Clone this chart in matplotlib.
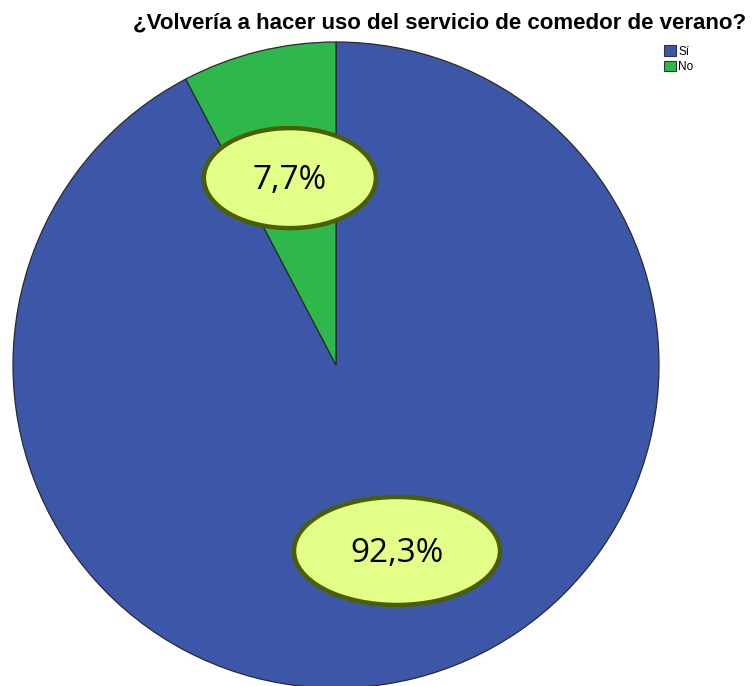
import numpy as np
import matplotlib
matplotlib.use("Agg")
import matplotlib.pyplot as plt
from matplotlib.patches import Ellipse, Patch

categories = ["Sí", "No"]
values = [92.3, 7.7]
labels = ["92,3%", "7,7%"]
colors = ["#3D57A8", "#2EB84C"]
title = "¿Volvería a hacer uso del servicio de comedor de verano?"

W, H = 755, 686
fig = plt.figure(figsize=(W / 100, H / 100), dpi=100)
cx, cy, R = 336, 365, 323
ax = fig.add_axes([(cx - R) / W, (H - cy - R) / H, 2 * R / W, 2 * R / H])
wedges, _ = ax.pie(values, colors=colors, startangle=90, counterclock=False,
                   radius=1.0, wedgeprops=dict(edgecolor="#2a2a2a", linewidth=0.9))
ax.set_xlim(-1, 1)
ax.set_ylim(-1, 1)
ax.set_aspect("equal")
ax.axis("off")

# label placement: (angle offset from wedge mid-angle in degrees, radius fraction, ellipse w, h)
placement = {"92,3%": (4.3, 0.606, 206 / R, 108 / R),
             "7,7%": (0.0, 0.596, 172 / R, 100 / R)}
for w, lab in zip(wedges, labels):
    off, r, ew, eh = placement[lab]
    mid = np.deg2rad((w.theta1 + w.theta2) / 2 + off)
    x, y = r * np.cos(mid), r * np.sin(mid)
    e = Ellipse((x, y), ew, eh, facecolor="#E3FF87", edgecolor="#4B5E00",
                linewidth=3.2, zorder=5, clip_on=False)
    ax.add_patch(e)
    ax.text(x, y - 0.008, lab, ha="center", va="center", fontsize=24,
            family="Open Sans", color="black", zorder=6)

fig.text(440 / W, 1 - 23 / H, title, ha="center", va="center",
         fontsize=16, fontweight="bold", family="Liberation Sans")

handles = [Patch(facecolor=c, edgecolor="#333333", linewidth=0.8) for c in colors]
fig.legend(handles, categories, loc="upper left", bbox_to_anchor=(656 / W, 1 - 37 / H),
           frameon=False, handlelength=1.0, handleheight=1.0,
           handletextpad=0.2, labelspacing=0.25, borderpad=0.2,
           prop={"family": "Liberation Sans", "size": 8.5})

fig.savefig("out.png", dpi=100)
